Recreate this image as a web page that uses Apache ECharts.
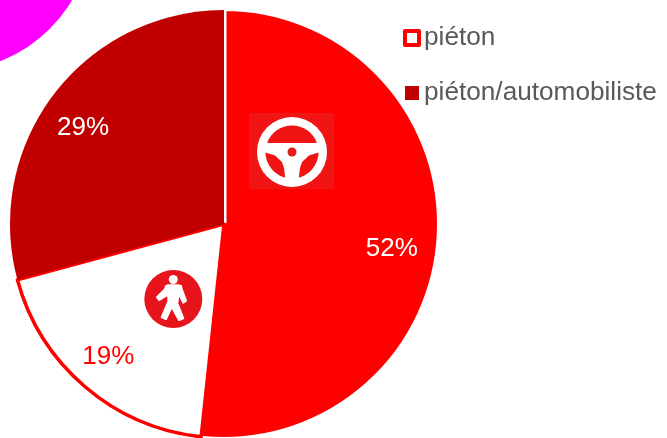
<!DOCTYPE html>
<html>
<head>
<meta charset="utf-8">
<style>
  html, body { margin: 0; padding: 0; background: #fff; }
  #chart { width: 667px; height: 438px; }
</style>
<script src="https://cdn.jsdelivr.net/npm/echarts@6/dist/echarts.min.js"></script>
</head>
<body>
<div id="chart"></div>
<script>
var categories = ['automobiliste', 'piéton', 'piéton/automobiliste'];
var values = [51.7, 19.1, 29.2];
var legendNames = ['piéton', 'piéton/automobiliste'];
var labelColors = ['#fff', '#f00', '#fff'];

var pieCenter = [224, 224];
var pieRadius = 214;

var chart = echarts.init(document.getElementById('chart'));

var sliceStyles = [
  { color: '#f00', borderColor: '#fff', borderWidth: 2 },
  { color: '#fff', borderColor: '#f00', borderWidth: 3.5 },
  { color: '#c00000', borderWidth: 0 }
];

// petits décalages des pourcentages par rapport au rayon
var labelNudges = [[-7, 15], [-2, 0], [-2, 10]];

// points le long du bord intérieur du volant, angles en degrés depuis le haut
function rimPoints(fromDeg, toDeg) {
  var pts = [];
  for (var i = 0; i <= 16; i++) {
    var a = (fromDeg + (toDeg - fromDeg) * i / 16) * Math.PI / 180;
    pts.push([292 + 26.5 * Math.sin(a), 152 - 26.5 * Math.cos(a)]);
  }
  return pts;
}

// volant + piéton, dessinés à la main
var iconZ = 20;
var wheelIcon = {
  type: 'group',
  silent: true,
  children: [
    { type: 'rect', z: iconZ, shape: { x: 249, y: 113, width: 85, height: 76 }, style: { fill: '#f01414' } },
    { type: 'circle', z: iconZ, shape: { cx: 292, cy: 152, r: 35 }, style: { fill: '#fff' } },
    { type: 'polygon', z: iconZ, shape: { points: rimPoints(-70, 70) }, style: { fill: '#f01414' } },
    { type: 'polygon', z: iconZ, shape: { points: rimPoints(-91, -165).concat([[284, 168], [282, 162], [275, 155.5]]) }, style: { fill: '#f01414' } },
    { type: 'polygon', z: iconZ, shape: { points: rimPoints(91, 165).concat([[300, 168], [302, 162], [309, 155.5]]) }, style: { fill: '#f01414' } },
    { type: 'circle', z: iconZ, shape: { cx: 292, cy: 152, r: 4.5 }, style: { fill: '#e81c1c' } }
  ]
};
var walkerIcon = {
  type: 'group',
  silent: true,
  children: [
    { type: 'circle', z: iconZ, shape: { cx: 173.3, cy: 299, r: 29 }, style: { fill: '#e8141c' } },
    { type: 'circle', z: iconZ, shape: { cx: 173.3, cy: 279.5, r: 4.5 }, style: { fill: '#fff' } },
    {
      type: 'polygon',
      z: iconZ,
      shape: {
        points: [[168.3, 285.3], [178.3, 285.3], [181, 286], [182, 290], [186, 300.7], [183.3, 302.7], [178.7, 293.3],
          [177.3, 303.3], [183.3, 318.3], [179, 320], [171.7, 306.7], [166, 319], [161.7, 317.3], [168.3, 301.7],
          [168.3, 294.3], [159.3, 300], [157, 297.3], [165, 289.3], [166, 286]]
      },
      style: { fill: '#fff', stroke: '#fff', lineWidth: 2, lineJoin: 'round' }
    }
  ]
};

var option = {
  backgroundColor: '#fff',
  animation: false,
  textStyle: { fontFamily: '"Liberation Sans", Arial, sans-serif' },
  legend: {
    orient: 'vertical',
    left: 398,
    top: 20,
    itemWidth: 14,
    itemHeight: 14,
    itemGap: 29,
    icon: 'rect',
    textStyle: { fontSize: 26.2, color: '#595959' },
    data: [
      { name: legendNames[0], itemStyle: { color: '#fff', borderColor: '#f00', borderWidth: 4 } },
      { name: legendNames[1], itemStyle: { color: '#c00000', borderWidth: 0 } }
    ]
  },
  graphic: [
    // cercle magenta coupé par le coin
    { type: 'circle', silent: true, z: 0, shape: { cx: -52, cy: -73, r: 144 }, style: { fill: '#ff00ff' } },
    // filet blanc entre les deux parts du haut
    { type: 'line', silent: true, z: iconZ, shape: { x1: 225.5, y1: 223, x2: 225.5, y2: 8 }, style: { stroke: '#fff', lineWidth: 2 } },
    wheelIcon,
    walkerIcon
  ],
  series: [
    {
      type: 'pie',
      center: pieCenter,
      radius: [0, pieRadius],
      startAngle: 90,
      clockwise: true,
      silent: true,
      label: { show: false },
      labelLine: { show: false },
      data: categories.map(function (name, i) {
        return { name: name, value: values[i], itemStyle: sliceStyles[i] };
      })
    },
    {
      // anneau transparent, sert seulement à placer les pourcentages
      type: 'pie',
      center: pieCenter,
      radius: [131, 213],
      startAngle: 90,
      clockwise: true,
      silent: true,
      z: 3,
      itemStyle: { color: 'transparent', borderWidth: 0 },
      labelLine: { show: false },
      labelLayout: function (params) {
        return { dx: labelNudges[params.dataIndex][0], dy: labelNudges[params.dataIndex][1] };
      },
      data: categories.map(function (name, i) {
        return {
          name: name,
          value: values[i],
          label: {
            show: true,
            position: 'inside',
            formatter: function (p) { return Math.round(p.value) + '%'; },
            fontSize: 26,
            color: labelColors[i],
            textBorderWidth: 0
          }
        };
      })
    }
  ]
};

chart.setOption(option);
</script>
</body>
</html>
